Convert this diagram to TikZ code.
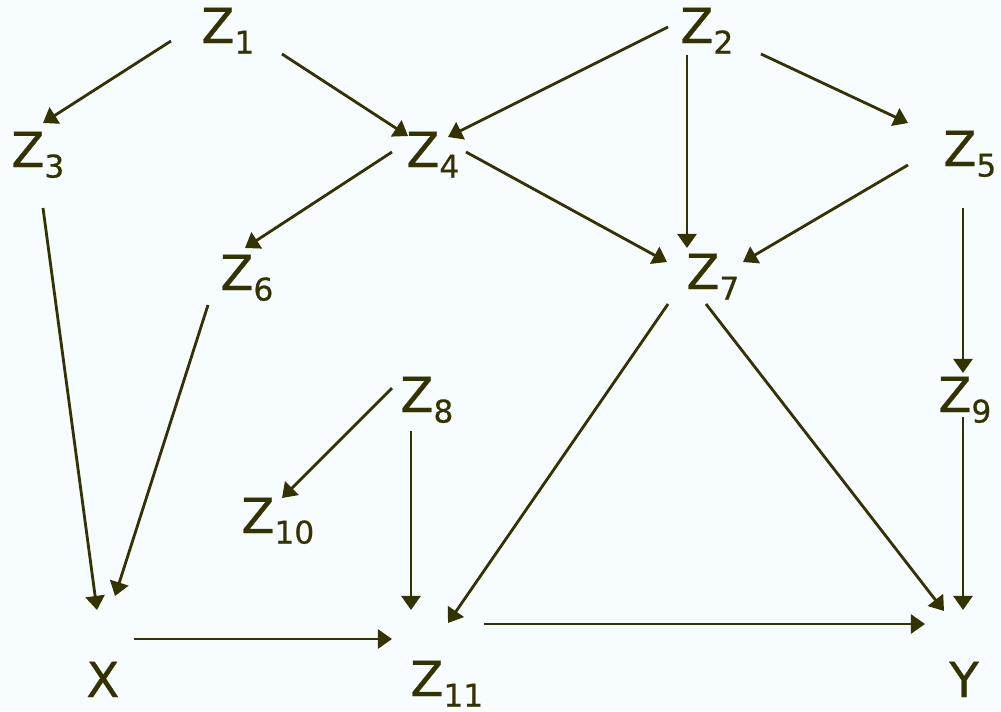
\documentclass[tikz,border=0pt]{standalone}
\usepackage{fontspec}
\setmainfont{DejaVu Sans}[FakeBold=0.6]
\usetikzlibrary{arrows.meta}
\definecolor{ink}{RGB}{51,51,0}
\definecolor{bg}{RGB}{246,252,255}
\newcommand{\zlab}[2]{#1\raisebox{-6pt}{\fontsize{17.8}{19}\selectfont #2}}
\begin{document}
\begin{tikzpicture}[x=0.02cm,y=-0.02cm,
  lab/.style={anchor=base west,inner sep=0pt,text=ink,font=\fontsize{27.5}{30}\selectfont},
  arr/.style={draw=ink,line width=1.6pt,-{Triangle[length=8pt,width=10.8pt]}}]
\fill[bg] (0,0) rectangle (1001,711);
\useasboundingbox (0,0) rectangle (1001,711);
% labels
\node[lab] (z1) at (201,43) {\zlab{Z}{1}};
\node[lab] (z2) at (680,43) {\zlab{Z}{2}};
\node[lab] (z3) at (11,167) {\zlab{Z}{3}};
\node[lab] (z4) at (406,167) {\zlab{Z}{4}};
\node[lab] (z5) at (943,166) {\zlab{Z}{5}};
\node[lab] (z6) at (220,290) {\zlab{Z}{6}};
\node[lab] (z7) at (686,289) {\zlab{Z}{7}};
\node[lab] (z8) at (400,412) {\zlab{Z}{8}};
\node[lab] (z9) at (938,412) {\zlab{Z}{9}};
\node[lab] (z10) at (241,533) {\zlab{Z}{10}};
\node[lab] (x) at (86,697) {X};
\node[lab] (z11) at (410,696) {\zlab{Z}{11}};
\node[lab] (y) at (949,697) {Y};
% connector end points
\coordinate (z1-z3) at (171,41);  \coordinate (z3-z1) at (43,123);
\coordinate (z1-z4) at (282,54);  \coordinate (z4-z1) at (408,136);
\coordinate (z2-z4) at (668,27);  \coordinate (z4-z2) at (448,137);
\coordinate (z2-z7) at (687,55);  \coordinate (z7-z2) at (687,248);
\coordinate (z2-z5) at (761,54);  \coordinate (z5-z2) at (908,123);
\coordinate (z3-x) at (43,208);   \coordinate (x-z3) at (97,610);
\coordinate (z4-z6) at (392,152); \coordinate (z6-z4) at (245,248);
\coordinate (z4-z7) at (466,152); \coordinate (z7-z4) at (667,262);
\coordinate (z5-z7) at (908,165); \coordinate (z7-z5) at (743,262);
\coordinate (z5-z9) at (963,208); \coordinate (z9-z5) at (963,373);
\coordinate (z6-x) at (208,305);  \coordinate (x-z6) at (115,596);
\coordinate (z7-z11) at (668,304);\coordinate (z11-z7) at (448,623);
\coordinate (z7-y) at (706,304);  \coordinate (y-z7) at (944,611);
\coordinate (z8-z10) at (392,388);\coordinate (z10-z8) at (282,498);
\coordinate (z8-z11) at (411,431);\coordinate (z11-z8) at (411,610);
\coordinate (z9-y) at (963,417);  \coordinate (y-z9) at (963,610);
\coordinate (x-z11) at (134,639); \coordinate (z11-x) at (392,639);
\coordinate (z11-y) at (484,624); \coordinate (y-z11) at (925,624);
% connectors
\draw[arr] (z1-z3) -- (z3-z1);
\draw[arr] (z1-z4) -- (z4-z1);
\draw[arr] (z2-z4) -- (z4-z2);
\draw[arr] (z2-z7) -- (z7-z2);
\draw[arr] (z2-z5) -- (z5-z2);
\draw[arr] (z3-x) -- (x-z3);
\draw[arr] (z4-z6) -- (z6-z4);
\draw[arr] (z4-z7) -- (z7-z4);
\draw[arr] (z5-z7) -- (z7-z5);
\draw[arr] (z5-z9) -- (z9-z5);
\draw[arr] (z6-x) -- (x-z6);
\draw[arr] (z7-z11) -- (z11-z7);
\draw[arr] (z7-y) -- (y-z7);
\draw[arr] (z8-z10) -- (z10-z8);
\draw[arr] (z8-z11) -- (z11-z8);
\draw[arr] (z9-y) -- (y-z9);
\draw[arr] (x-z11) -- (z11-x);
\draw[arr] (z11-y) -- (y-z11);
\end{tikzpicture}
\end{document}
